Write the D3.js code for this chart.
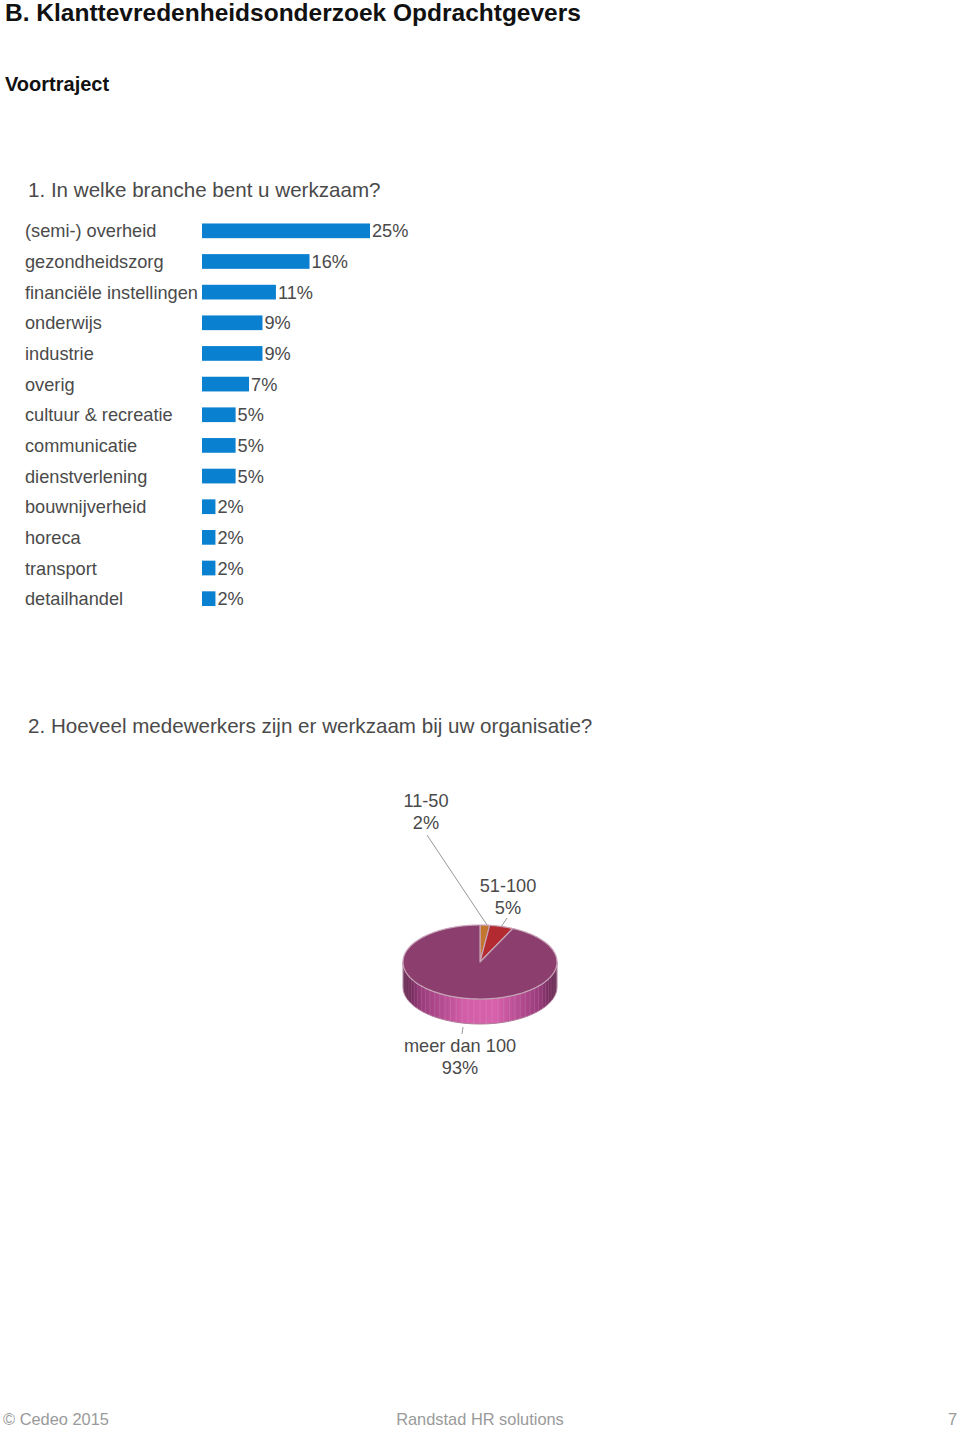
<!DOCTYPE html>
<html><head><meta charset="utf-8">
<script src="https://cdn.jsdelivr.net/npm/d3@7"></script>
<style>body{margin:0;background:#fff;} svg{display:block;}</style>
</head><body>
<script>
const branches = ["(semi-) overheid","gezondheidszorg","financiële instellingen","onderwijs","industrie","overig","cultuur & recreatie","communicatie","dienstverlening","bouwnijverheid","horeca","transport","detailhandel"];
const branchValues = [25,16,11,9,9,7,5,5,5,2,2,2,2];
const sizeCategories = ["11-50","51-100","meer dan 100"];
const sizeValues = [2,5,93];

const W=960,H=1429;
const svg=d3.select("body").append("svg").attr("width",W).attr("height",H);
const font="'Liberation Sans', Arial, Helvetica, sans-serif";
const grey="#4a4a4a";

svg.append("text").attr("x",5).attr("y",21).attr("font-family",font).attr("font-weight","bold").attr("font-size",24.5).attr("fill","#111").text("B. Klanttevredenheidsonderzoek Opdrachtgevers");
svg.append("text").attr("x",5).attr("y",91).attr("font-family",font).attr("font-weight","bold").attr("font-size",20).attr("fill","#111").text("Voortraject");
svg.append("text").attr("x",28).attr("y",197).attr("font-family",font).attr("font-size",20.6).attr("fill",grey).text("1. In welke branche bent u werkzaam?");

// Bar chart
const x=d3.scaleLinear().domain([0,25]).range([202,370]);
const y=d3.scaleBand().domain(branches).range([215.5,614]).paddingInner(0.52).paddingOuter(0.26);
const g=svg.append("g");
g.selectAll("rect").data(branches).join("rect")
 .attr("x",x(0)).attr("y",d=>y(d)).attr("height",y.bandwidth())
 .attr("width",(d,i)=>x(branchValues[i])-x(0)).attr("fill","#0a80d0");
g.selectAll("text.lab").data(branches).join("text").attr("class","lab")
 .attr("x",25).attr("y",d=>y(d)+y.bandwidth()/2+6.5).attr("font-family",font).attr("font-size",18.2).attr("fill",grey).text(d=>d);
g.selectAll("text.val").data(branches).join("text").attr("class","val")
 .attr("x",(d,i)=>x(branchValues[i])+2).attr("y",d=>y(d)+y.bandwidth()/2+6.5).attr("font-family",font).attr("font-size",18.2).attr("fill",grey).text((d,i)=>branchValues[i]+"%");

svg.append("text").attr("x",28).attr("y",733).attr("font-family",font).attr("font-size",20.6).attr("fill",grey).text("2. Hoeveel medewerkers zijn er werkzaam bij uw organisatie?");

// 3D pie
const cx=480,cy=962,rx=77,ry=37,depth=25;
const pie=d3.pie().sort(null).value(d=>d)(sizeValues);
const colors=["#c2762e","#b32a30","#8c3f6e"];
const defs=svg.append("defs");
const grad=defs.append("linearGradient").attr("id","side").attr("x1","0%").attr("x2","100%");
[[0,"#5e2249"],[0.12,"#9a3c7c"],[0.4,"#d35ea8"],[0.6,"#d761ab"],[0.88,"#9a3c7c"],[1,"#5e2249"]].forEach(s=>grad.append("stop").attr("offset",s[0]).attr("stop-color",s[1]));
const pt=(a,dy)=>[cx+rx*Math.sin(a),cy-ry*Math.cos(a)+dy];
let side=`M${cx-rx},${cy}`;
for(let k=0;k<=60;k++){const a=-Math.PI/2-Math.PI*k/60;const p=pt(a,0);side+=`L${p[0]},${p[1]}`;}
side+=`L${cx+rx},${cy+depth}`;
for(let k=0;k<=60;k++){const a=Math.PI/2+Math.PI*k/60;const p=pt(a,depth);side+=`L${p[0]},${p[1]}`;}
side+="Z";
svg.append("path").attr("d",side).attr("fill","url(#side)").attr("stroke","#b07898").attr("stroke-width",1);
const stripes=svg.append("g");
for(let k=1;k<40;k++){const a=Math.PI/2+Math.PI*k/40;const p0=pt(a,0),p1=pt(a,depth);
 stripes.append("line").attr("x1",p0[0]).attr("y1",p0[1]).attr("x2",p1[0]).attr("y2",p1[1]).attr("stroke","#ffffff").attr("stroke-opacity",0.12).attr("stroke-width",1);}
const slicePath=d=>{let s=`M${cx},${cy}`;const n=Math.max(2,Math.ceil((d.endAngle-d.startAngle)*40));
 for(let k=0;k<=n;k++){const a=d.startAngle+(d.endAngle-d.startAngle)*k/n;const p=pt(a,0);s+=`L${p[0]},${p[1]}`;}return s+"Z";};
svg.append("g").selectAll("path").data(pie).join("path").attr("d",slicePath)
 .attr("fill",(d,i)=>colors[i]).attr("stroke","#c8a4b8").attr("stroke-width",1.2).attr("stroke-linejoin","round");

const lab=[{x:426,y:807,lx1:427,ly1:835,lx2:487,ly2:925},{x:508,y:892,lx1:507,ly1:918,lx2:501,ly2:927},{x:460,y:1052,lx1:463,ly1:1027,lx2:462,ly2:1034}];
const ll=svg.append("g");
sizeCategories.forEach((c,i)=>{const L=lab[i];
 ll.append("line").attr("x1",L.lx1).attr("y1",L.ly1).attr("x2",L.lx2).attr("y2",L.ly2).attr("stroke","#999").attr("stroke-width",1);
 ll.append("text").attr("x",L.x).attr("y",L.y).attr("text-anchor","middle").attr("font-family",font).attr("font-size",18.2).attr("fill",grey).text(c);
 ll.append("text").attr("x",L.x).attr("y",L.y+22).attr("text-anchor","middle").attr("font-family",font).attr("font-size",18.2).attr("fill",grey).text(sizeValues[i]+"%");
});

const fg="#9a9a9a";
svg.append("text").attr("x",3).attr("y",1425).attr("font-family",font).attr("font-size",16.4).attr("fill",fg).text("© Cedeo 2015");
svg.append("text").attr("x",480).attr("y",1425).attr("text-anchor","middle").attr("font-family",font).attr("font-size",16.4).attr("fill",fg).text("Randstad HR solutions");
svg.append("text").attr("x",957).attr("y",1425).attr("text-anchor","end").attr("font-family",font).attr("font-size",16.4).attr("fill",fg).text("7");
</script>
</body></html>
